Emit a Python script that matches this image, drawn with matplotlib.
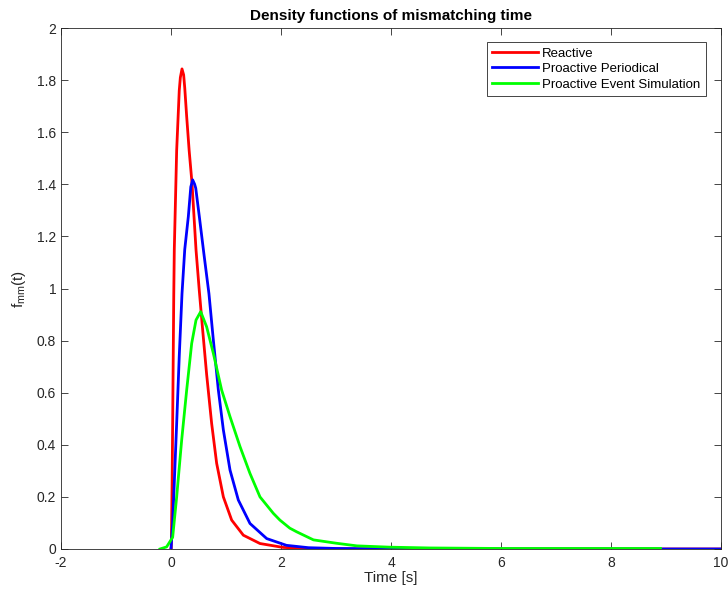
import numpy as np
import matplotlib
matplotlib.use("Agg")
import matplotlib.pyplot as plt

plt.rcParams['font.family'] = ['Liberation Sans', 'DejaVu Sans']
plt.rcParams['mathtext.fontset'] = 'custom'
plt.rcParams['mathtext.rm'] = 'Liberation Sans'
plt.rcParams['mathtext.it'] = 'Liberation Sans'
plt.rcParams['axes.unicode_minus'] = False

# Reactive
t_reactive = [0.0, 0.005, 0.02, 0.03, 0.05, 0.06, 0.103, 0.15, 0.17, 0.2, 0.23, 0.25,
              0.285, 0.33, 0.382, 0.455, 0.515, 0.576, 0.648, 0.739, 0.83, 0.952,
              1.103, 1.315, 1.618, 2.04, 2.5, 3.0, 4.0, 6.0, 8.0, 10.0]
f_reactive = [0.0, 0.0, 0.25, 0.48, 0.97, 1.15, 1.53, 1.76, 1.81, 1.843, 1.82, 1.77,
              1.66, 1.53, 1.404, 1.148, 0.99, 0.84, 0.67, 0.482, 0.329, 0.2,
              0.111, 0.053, 0.021, 0.006, 0.002, 0.0005, 0.0, 0.0, 0.0, 0.0]

# Proactive Periodical
t_periodical = [0.0, 0.03, 0.103, 0.15, 0.2, 0.25, 0.315, 0.36, 0.394, 0.43, 0.45,
                0.515, 0.6, 0.69, 0.77, 0.861, 0.952, 1.073, 1.224, 1.436, 1.74,
                2.1, 2.5, 3.0, 4.0, 5.0, 10.0]
f_periodical = [0.0, 0.098, 0.482, 0.74, 0.98, 1.15, 1.276, 1.39, 1.417, 1.40, 1.385,
                1.276, 1.13, 0.98, 0.802, 0.61, 0.457, 0.303, 0.188, 0.098, 0.04,
                0.014, 0.005, 0.002, 0.0005, 0.0, 0.0]

# Proactive Event Simulation
t_event = [-0.2, -0.08, 0.03, 0.103, 0.194, 0.285, 0.376, 0.455, 0.54, 0.648, 0.77,
           0.921, 1.073, 1.255, 1.436, 1.618, 1.86, 1.98, 2.16, 2.285, 2.59, 3.01,
           3.38, 3.98, 4.7, 6.0, 8.9]
f_event = [0.0, 0.008, 0.045, 0.2, 0.418, 0.61, 0.789, 0.879, 0.911, 0.853, 0.751,
           0.61, 0.508, 0.393, 0.29, 0.2, 0.137, 0.111, 0.08, 0.066, 0.035, 0.022,
           0.012, 0.007, 0.004, 0.002, 0.002]

fig = plt.figure(figsize=(7.28, 5.94), dpi=100)
ax = fig.add_axes([61 / 728, 1 - 549 / 594, 660 / 728, 521 / 594])

ax.plot(t_reactive, f_reactive, color='#ff0000', lw=2, label='Reactive')
ax.plot(t_periodical, f_periodical, color='#0000ff', lw=2, label='Proactive Periodical')
ax.plot(t_event, f_event, color='#00ff00', lw=2, label='Proactive Event Simulation')

ax.set_xlim(-2, 10)
ax.set_ylim(0, 2)
ax.set_xticks(np.arange(-2, 11, 2))
ax.set_yticks(np.round(np.arange(0, 2.01, 0.2), 1))
ax.set_yticklabels(['0', '0.2', '0.4', '0.6', '0.8', '1', '1.2', '1.4', '1.6', '1.8', '2'])
ax.tick_params(direction='in', top=True, right=True, length=5, width=0.6,
               colors='0.15', labelsize=10, labelcolor='0.15')
ax.tick_params(axis='x', pad=5)
for s in ax.spines.values():
    s.set_color('0.15')
    s.set_linewidth(0.6)

ax.set_title('Density functions of mismatching time', fontsize=11, fontweight='bold', pad=6)
ax.set_xlabel('Time [s]', fontsize=11, color='0.15', labelpad=1)
ax.set_ylabel(r'f$_{\rm mm}$(t)', fontsize=11, color='0.15', labelpad=6)

leg = ax.legend(loc='upper right', bbox_to_anchor=(0.977, 0.973), fontsize=9.5,
                fancybox=False, framealpha=1, edgecolor='0.15', handlelength=3.5,
                borderpad=0.4, labelspacing=0.25, handletextpad=0.3, borderaxespad=0)
leg.get_frame().set_linewidth(0.6)

fig.savefig('out.png', dpi=100)
